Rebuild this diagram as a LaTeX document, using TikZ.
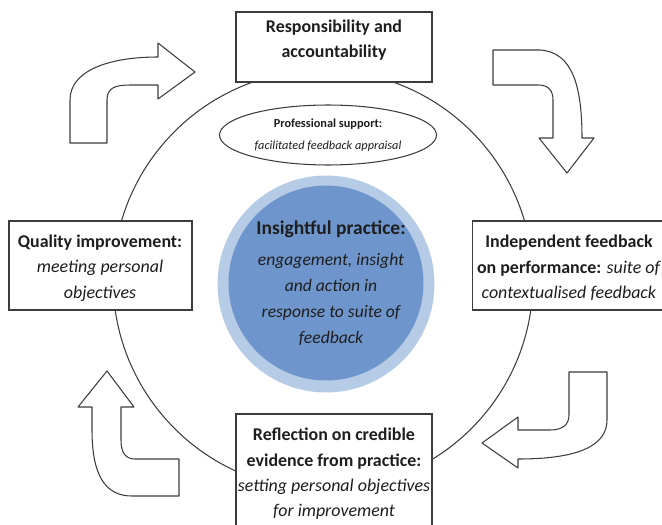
\documentclass[tikz,border=0pt]{standalone}
\usepackage{fontspec}
\setmainfont{Carlito}
\usetikzlibrary{shapes.geometric}
\definecolor{ringblue}{RGB}{182,203,230}
\definecolor{coreblue}{RGB}{111,150,204}
\definecolor{ink}{RGB}{30,30,30}
\definecolor{edge}{RGB}{60,60,60}
\tikzset{
  box/.style={draw=edge, line width=.6pt, fill=white, rectangle, inner sep=0pt},
  boxtext/.style={align=center, text=ink, font=\fontsize{10.2}{14.4}\selectfont},
  turn/.style={draw=edge, line width=.6pt, fill=white, line join=round},
}

\begin{document}
\begin{tikzpicture}[x=.02cm, y=-.02cm]
	\useasboundingbox (0,0) rectangle (662,524);
	\clip (0,0) rectangle (662,524);

	% the cycle
	\draw[edge, line width=.6pt] (323,280) circle [radius=4.2cm];

	% insightful practice
	\node[circle, fill=ringblue, minimum size=4.34cm] (ring) at (326,284) {};
	\node[circle, fill=coreblue, minimum size=3.9cm] (core) at (326,283) {};
	\node[align=center, text=ink, font=\fontsize{10}{14.8}\selectfont] (coretext) at (331,283)
		{{\fontsize{11.1}{14.8}\selectfont\bfseries Insightful practice:}\\[2.5pt]
		\itshape engagement, insight\\ \itshape and action in\\
		\itshape response to suite of\\ \itshape feedback};

	% professional support
	\node[ellipse, draw=edge, line width=.6pt, fill=white, minimum width=4.34cm, minimum height=1.2cm,
		inner sep=0pt, align=center, text=ink, font=\fontsize{7}{12.4}\selectfont] (support) at (328,135)
		{\textbf{Professional support:}\\\textit{facilitated feedback appraisal}};

	% the four stages
	\node[box, minimum width=3.92cm, minimum height=1.4cm] (resp) at (334,47) {};
	\node[boxtext] (resptext) at (334,40) {\textbf{Responsibility and}\\\textbf{accountability}};

	\node[box, minimum width=3.9cm, minimum height=1.78cm] (indep) at (570,265.5) {};
	\node[boxtext] (indeptext) at (569,268)
		{\textbf{Independent feedback}\\\textbf{on performance:} \textit{suite of}\\\textit{contextualised feedback}};

	\node[box, minimum width=3.92cm, minimum height=2.32cm] (refl) at (334,472) {};
	\node[boxtext] (refltext) at (334,474)
		{\textbf{Reflection on credible}\\\textbf{evidence from practice:}\\
		\textit{setting personal objectives}\\\textit{for improvement}};

	\node[box, minimum width=3.66cm, minimum height=1.78cm] (qual) at (100.5,265.5) {};
	\node[boxtext] (qualtext) at (100,268)
		{\textbf{Quality improvement:}\\\textit{meeting personal}\\\textit{objectives}};

	% turning arrows
	\filldraw[turn] (70,143) -- (107,143) -- (107,100) .. controls (107,88) and (115,85) .. (130,85)
		-- (158,85) -- (158,99) -- (195,72) -- (158,43) -- (158,57)
		.. controls (110,57) and (70,70) .. (70,100) -- cycle;
	\filldraw[turn] (493,50) -- (540,50) .. controls (572,52) and (582,85) .. (582,138)
		-- (594,138) -- (567,173) -- (539,138) -- (553,138) -- (553,100)
		.. controls (553,90) and (548,85) .. (538,85) -- (493,85) -- cycle;
	\filldraw[turn] (569,372) -- (607,372) -- (607,420) .. controls (607,445) and (580,459) .. (518,459)
		-- (518,468) -- (482,443) -- (518,417) -- (518,430) -- (550,430)
		.. controls (562,430) and (569,425) .. (569,415) -- cycle;
	\filldraw[turn] (107,371) -- (134,407) -- (121,407) -- (121,440) .. controls (121,452) and (125,459) .. (135,459)
		-- (179,459) -- (179,496) -- (132,496) .. controls (105,496) and (92,475) .. (92,430)
		-- (92,407) -- (78,407) -- cycle;
\end{tikzpicture}
\end{document}
